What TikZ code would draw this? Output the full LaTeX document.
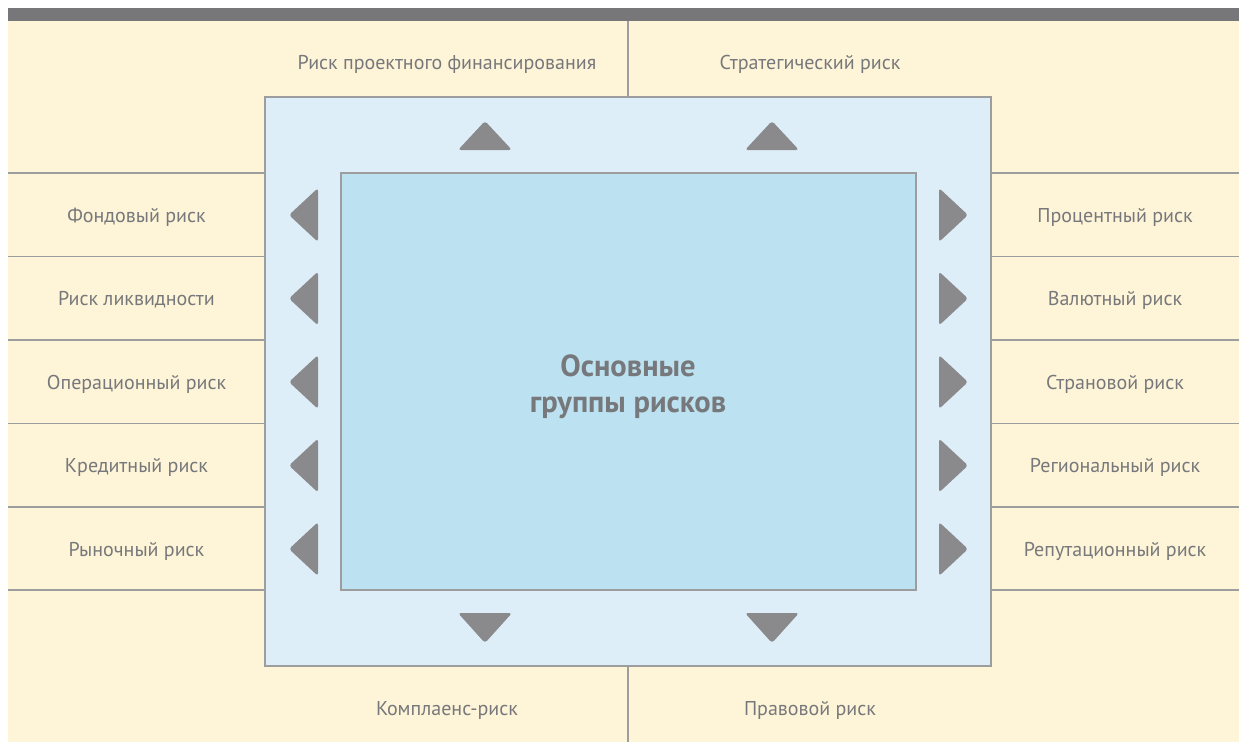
\documentclass[tikz,border=0pt]{standalone}
\usepackage{fontspec}
\setmainfont{PT Sans}
\usepackage{tikz}
\usetikzlibrary{positioning}
\definecolor{barGray}{HTML}{77777A}
\definecolor{creamBg}{HTML}{FEF4D8}
\definecolor{frameBlue}{HTML}{DDEEF8}
\definecolor{coreBlue}{HTML}{BCE2F1}
\definecolor{triGray}{HTML}{8A8A8C}
\definecolor{txtGray}{HTML}{77787B}
\definecolor{ruleGray}{HTML}{9D9D9D}
\tikzset{
  risk/.style={font=\fontsize{20}{24}\selectfont,text=txtGray,inner sep=0pt,anchor=base,yshift=-7pt},
  rule/.style={draw=ruleGray,line width=1.4pt},
  framebox/.style={draw=ruleGray,line width=1.4pt,fill=frameBlue,minimum width=726pt,minimum height=569pt,inner sep=0pt},
  corebox/.style={draw=ruleGray,line width=1.4pt,fill=coreBlue,minimum width=575pt,minimum height=417pt,inner sep=0pt},
  coretext/.style={font=\fontsize{30.5}{36}\selectfont\bfseries,text=txtGray,align=center,inner sep=0pt},
  marker/.style={fill=triGray,rounded corners=3pt}
}
\begin{document}
\begin{tikzpicture}[x=1pt,y=-1pt]
\useasboundingbox (0,0) rectangle (1239,742);
\fill[white] (0,0) rectangle (1239,742);
\fill[creamBg] (8,21) rectangle (1239,742);
\fill[barGray] (8,8) rectangle (1239,21);
% separators
\foreach \r in {173,256.5,340,423.5,507,590}{
  \draw[rule] (8,\r) -- (265,\r);
  \draw[rule] (991,\r) -- (1239,\r);
}
\draw[rule] (628,21) -- (628,97);
\draw[rule] (628,666) -- (628,742);
% boxes
\node[framebox] (frame) at (628,381.5) {};
\node[corebox] (core) at (628.5,381.5) {};
\node[coretext] (title) at (628,387) {Основные\\группы рисков};
% markers
\foreach \r in {215,298.5,382,465.5,549}{
  \fill[marker] (318,\r-27) -- (289,\r) -- (318,\r+27) -- cycle;
  \fill[marker] (939,\r-27) -- (968,\r) -- (939,\r+27) -- cycle;
}
\foreach \c in {485,772}{
  \fill[marker] (\c-27,150) -- (\c,121) -- (\c+27,150) -- cycle;
  \fill[marker] (\c-27,613) -- (\c,643) -- (\c+27,613) -- cycle;
}
% labels
\node[risk] (proj) at (447,62) {Риск проектного финансирования};
\node[risk] (strat) at (810,62) {Стратегический риск};
\node[risk] (compl) at (447,708) {Комплаенс-риск};
\node[risk] (legal) at (810,708) {Правовой риск};
\node[risk] (stock) at (136.5,215) {Фондовый риск};
\node[risk] (liq) at (136.5,298.5) {Риск ликвидности};
\node[risk] (oper) at (136.5,382) {Операционный риск};
\node[risk] (cred) at (136.5,465.5) {Кредитный риск};
\node[risk] (mkt) at (136.5,549) {Рыночный риск};
\node[risk] (rate) at (1115,215) {Процентный риск};
\node[risk] (curr) at (1115,298.5) {Валютный риск};
\node[risk] (country) at (1115,382) {Страновой риск};
\node[risk] (region) at (1115,465.5) {Региональный риск};
\node[risk] (reput) at (1115,549) {Репутационный риск};
\end{tikzpicture}
\end{document}
